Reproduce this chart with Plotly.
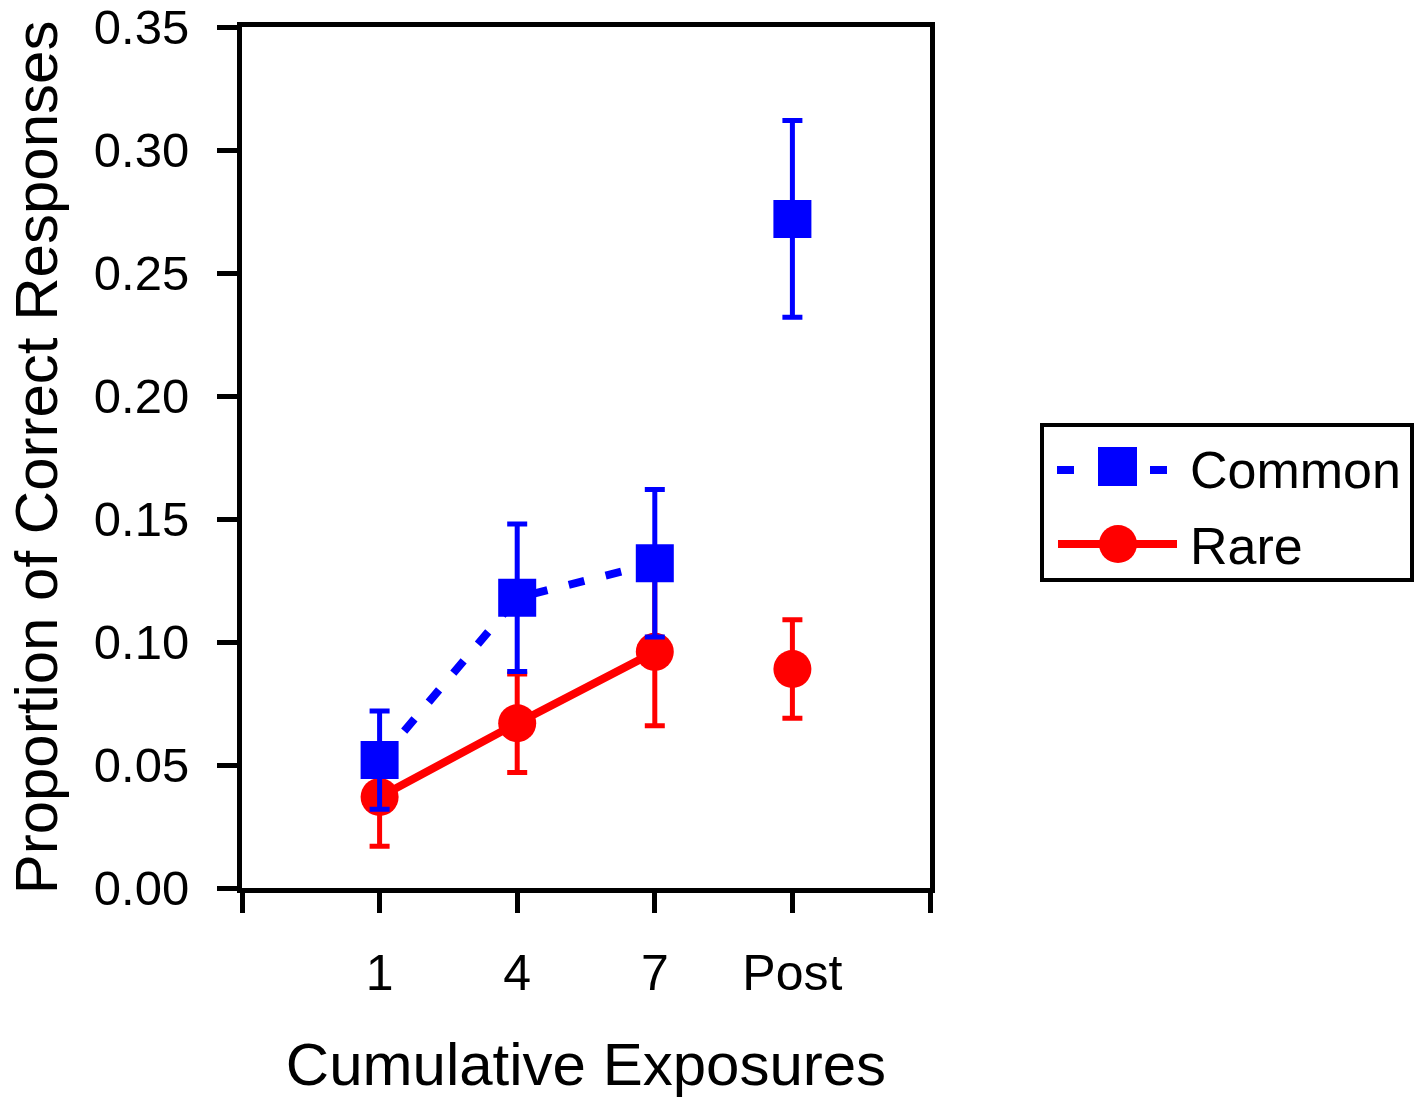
import plotly.graph_objects as go

categories = ["1", "4", "7", "Post"]
common = [0.052, 0.118, 0.132, 0.272]
common_err = [0.020, 0.030, 0.030, 0.040]
rare = [0.037, 0.067, 0.096, 0.089]
rare_err = [0.020, 0.020, 0.030, 0.020]
series_names = ["Common", "Rare"]

xpos = list(range(1, len(categories) + 1))
FONT = "Liberation Sans, Arial, sans-serif"
BLUE = "#0000ff"
RED = "#ff0000"

# plot area in pixels
L, R, T, B = 242, 930, 27, 888
W, H = 1416, 1098

def px(x):
    return (x - L) / (R - L)

def py(y):
    return (B - y) / (B - T)

fig = go.Figure()

def add_series(name, vals, errs, color, symbol, dash):
    fig.add_trace(go.Scatter(
        x=xpos[:3], y=vals[:3], name=name, mode="lines+markers",
        line=dict(color=color, width=8, dash=dash),
        marker=dict(color=color, size=38, symbol=symbol, line=dict(width=0)),
        error_y=dict(type="data", array=errs[:3], color=color, thickness=5, width=10),
        showlegend=False,
    ))
    fig.add_trace(go.Scatter(
        x=xpos[3:], y=vals[3:], name=name, mode="markers", showlegend=False,
        marker=dict(color=color, size=38, symbol=symbol, line=dict(width=0)),
        error_y=dict(type="data", array=errs[3:], color=color, thickness=5, width=10),
    ))

add_series(series_names[1], rare, rare_err, RED, "circle", "solid")
add_series(series_names[0], common, common_err, BLUE, "square", "16px,22px")

# manual legend (styling only)
shapes = [
    dict(type="rect", xref="paper", yref="paper",
         x0=px(1042), x1=px(1412), y0=py(425), y1=py(580),
         line=dict(color="black", width=4), fillcolor="white", layer="above"),
    dict(type="line", xref="paper", yref="paper", x0=px(1057), x1=px(1074), y0=py(470), y1=py(470),
         line=dict(color=BLUE, width=8)),
    dict(type="line", xref="paper", yref="paper", x0=px(1150), x1=px(1167), y0=py(470), y1=py(470),
         line=dict(color=BLUE, width=8)),
    dict(type="rect", xref="paper", yref="paper", x0=px(1098), x1=px(1137), y0=py(447), y1=py(486),
         fillcolor=BLUE, line=dict(width=0)),
    dict(type="line", xref="paper", yref="paper", x0=px(1058), x1=px(1177), y0=py(544), y1=py(544),
         line=dict(color=RED, width=8)),
    dict(type="circle", xref="paper", yref="paper", x0=px(1099), x1=px(1137), y0=py(525), y1=py(563),
         fillcolor=RED, line=dict(width=0)),
]
annotations = [
    dict(text=series_names[0], xref="paper", yref="paper", x=px(1188), y=py(470),
         xanchor="left", yanchor="middle", showarrow=False, font=dict(size=52, family=FONT)),
    dict(text=series_names[1], xref="paper", yref="paper", x=px(1188), y=py(546),
         xanchor="left", yanchor="middle", showarrow=False, font=dict(size=52, family=FONT)),
]

fig.update_layout(
    width=W, height=H,
    margin=dict(l=L, r=W - R, t=T, b=H - B, autoexpand=False),
    paper_bgcolor="white", plot_bgcolor="white",
    font=dict(family=FONT, size=50, color="black"),
    showlegend=False,
    shapes=shapes, annotations=annotations,
    xaxis=dict(
        range=[0, 5], tickmode="array",
        tickvals=[0] + xpos + [len(categories) + 1],
        ticktext=[""] + categories + [""],
        ticks="outside", ticklen=20, tickwidth=5, tickcolor="black",
        showline=True, linewidth=5, linecolor="black", mirror=True,
        showgrid=False, zeroline=False, automargin=False,
        tickfont=dict(size=50), ticklabelstandoff=17,
        title=dict(text="Cumulative Exposures", font=dict(size=60), standoff=55),
    ),
    yaxis=dict(
        range=[0, 0.35], dtick=0.05, tickformat=".2f",
        ticks="outside", ticklen=20, tickwidth=5, tickcolor="black",
        showline=True, linewidth=5, linecolor="black", mirror=True,
        showgrid=False, zeroline=False, automargin=False,
        tickfont=dict(size=49), ticklabelstandoff=18,
        title=dict(text="Proportion of Correct Responses", font=dict(size=60), standoff=18),
    ),
)

fig.write_html("out.html", config={"displayModeBar": False},
               post_script="document.body.style.margin='0';")
